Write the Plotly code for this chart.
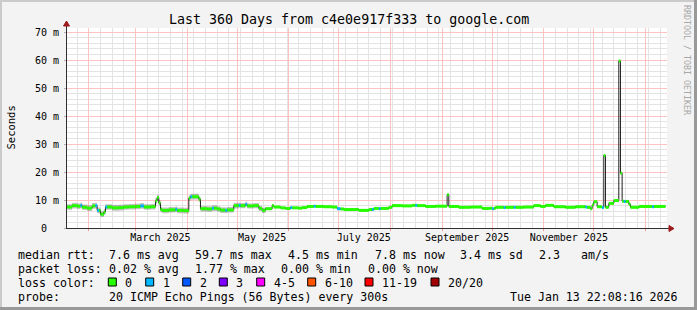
import plotly.graph_objects as go

# ------------------------------------------------------------------ data
dates = [
    # Jan 2025
    "2025-01-19", "2025-01-22", "2025-01-25", "2025-01-27", "2025-01-28", "2025-01-31",
    # Feb
    "2025-02-03", "2025-02-05", "2025-02-06", "2025-02-07", "2025-02-08", "2025-02-10",
    "2025-02-11", "2025-02-12", "2025-02-15", "2025-02-19", "2025-02-22", "2025-02-25",
    # Mar
    "2025-03-01", "2025-03-04", "2025-03-06", "2025-03-10", "2025-03-13", "2025-03-14",
    "2025-03-15", "2025-03-16", "2025-03-17", "2025-03-21", "2025-03-25", "2025-03-26",
    "2025-03-30",
    # Apr
    "2025-04-02", "2025-04-03", "2025-04-04", "2025-04-08", "2025-04-09", "2025-04-13",
    "2025-04-16", "2025-04-17", "2025-04-19", "2025-04-21", "2025-04-24", "2025-04-25",
    "2025-04-29",
    # May
    "2025-05-02", "2025-05-03", "2025-05-06", "2025-05-07", "2025-05-11", "2025-05-14",
    "2025-05-16", "2025-05-18", "2025-05-22", "2025-05-23", "2025-05-27", "2025-05-30",
    # Jun
    "2025-06-02", "2025-06-03", "2025-06-07", "2025-06-09", "2025-06-12", "2025-06-16",
    "2025-06-17", "2025-06-22", "2025-06-27", "2025-06-30",
    # Jul
    "2025-07-02", "2025-07-04", "2025-07-13", "2025-07-19", "2025-07-21", "2025-07-22",
    "2025-07-25", "2025-07-26", "2025-07-31",
    # Aug
    "2025-08-02", "2025-08-08", "2025-08-14", "2025-08-16", "2025-08-17", "2025-08-22",
    "2025-08-28",
    # Sep
    "2025-09-04", "2025-09-05", "2025-09-11", "2025-09-18", "2025-09-25", "2025-09-30",
    # Oct
    "2025-10-01", "2025-10-02", "2025-10-03", "2025-10-08", "2025-10-09", "2025-10-14",
    "2025-10-15", "2025-10-20", "2025-10-26", "2025-10-30",
    # Nov
    "2025-11-02", "2025-11-07", "2025-11-14", "2025-11-20", "2025-11-26", "2025-11-27",
    "2025-11-29", "2025-11-30",
    # Dec
    "2025-12-01", "2025-12-03", "2025-12-06", "2025-12-07", "2025-12-08", "2025-12-10",
    "2025-12-13", "2025-12-16", "2025-12-17", "2025-12-18", "2025-12-19", "2025-12-20",
    "2025-12-22", "2025-12-23", "2025-12-28",
    # Jan 2026
    "2026-01-05", "2026-01-06", "2026-01-13",
]

median_ms = [
    7.5, 8.0, 7.8, 8.1, 7.4, 7.1,
    7.9, 8.0, 6.3, 6.3, 4.9, 5.7, 7.5, 7.5, 7.2, 7.3, 7.5, 7.6,
    7.7, 7.9, 7.5, 7.6, 9.7, 10.9, 9.0, 6.6, 6.3, 6.5, 6.7, 6.3, 6.2,
    10.7, 11.2, 11.2, 10.3, 6.9, 6.8, 7.1, 7.1, 6.8, 6.4, 6.3, 6.5, 8.0,
    8.1, 8.0, 8.5, 7.9, 8.0, 7.0, 6.3, 6.9, 8.0, 7.5, 7.2, 7.0,
    7.3, 7.2, 7.1, 7.3, 7.7, 7.8, 7.7, 7.6, 7.5, 6.9,
    6.8, 6.6, 6.3, 6.6, 6.6, 7.0, 6.9, 7.0, 7.4,
    8.0, 7.9, 8.1, 8.1, 8.0, 7.7, 7.8,
    11.9, 7.7, 7.4, 7.5, 7.0, 7.1,
    6.9, 7.0, 7.4, 7.3, 7.4, 7.4, 7.4, 7.5, 8.0, 7.7,
    8.1, 7.6, 7.4, 7.6, 7.5, 7.4, 6.9, 8.2,
    9.4, 7.6, 7.3, 25.9, 7.4, 8.8, 9.8, 59.7, 19.6, 9.6, 9.5, 9.5, 8.5, 7.4, 7.7,
    7.6, 7.7, 7.7,
]

loss_count = [
    0, 0, 0, 1, 0, 0,
    0, 1, 1, 0, 0, 0, 1, 0, 0, 0, 0, 0,
    0, 1, 0, 0, 0, 0, 0, 0, 0, 0, 1, 0, 0,
    0, 1, 0, 0, 0, 0, 1, 0, 0, 0, 1, 0, 0,
    1, 0, 1, 0, 0, 0, 0, 0, 0, 0, 0, 0,
    1, 0, 0, 0, 0, 1, 0, 0, 0, 1,
    0, 0, 0, 0, 1, 0, 1, 0, 0,
    0, 0, 0, 1, 0, 0, 0,
    0, 0, 0, 0, 0, 0,
    1, 0, 0, 1, 0, 1, 0, 0, 0, 0,
    0, 0, 0, 0, 1, 0, 0, 0,
    0, 0, 1, 0, 0, 0, 0, 0, 0, 0, 1, 0, 0, 0, 0,
    1, 0, 0,
]

smoke_ms = [
    1.0, 1.0, 1.0, 1.0, 1.0, 1.0,
    1.0, 1.0, 1.0, 1.0, 1.0, 1.0, 1.0, 1.0, 1.0, 1.0, 1.0, 1.0,
    1.0, 1.0, 1.0, 1.0, 1.0, 1.0, 1.0, 1.0, 1.0, 1.0, 1.0, 1.0, 1.0,
    1.0, 1.0, 1.0, 1.0, 1.0, 1.0, 1.0, 1.0, 1.0, 1.0, 1.0, 1.0, 1.0,
    0.9, 0.9, 0.9, 0.9, 0.9, 0.9, 0.9, 0.5, 0.4, 0.4, 0.4, 0.4,
    0.4, 0.4, 0.4, 0.4, 0.4, 0.4, 0.4, 0.4, 0.4, 0.4,
    0.4, 0.4, 0.4, 0.4, 0.4, 0.4, 0.4, 0.4, 0.4,
    0.4, 0.4, 0.4, 0.4, 0.4, 0.4, 0.4,
    0.4, 0.4, 0.4, 0.4, 0.4, 0.4,
    0.4, 0.4, 0.4, 0.4, 0.4, 0.4, 0.4, 0.4, 0.4, 0.4,
    0.4, 0.4, 0.4, 0.4, 0.4, 0.4, 0.4, 0.4,
    0.4, 0.4, 0.4, 0.4, 0.4, 0.4, 0.4, 0.4, 0.4, 0.4, 0.4, 0.4, 0.4, 0.4, 0.4,
    0.4, 0.4, 0.4,
]

x_start = "2025-01-18 22:08:16"
x_end = "2026-01-13 22:08:16"

grid_months = ["2025-02-01", "2025-03-01", "2025-04-01", "2025-05-01", "2025-06-01",
               "2025-07-01", "2025-08-01", "2025-09-01", "2025-10-01", "2025-11-01",
               "2025-12-01", "2026-01-01"]
label_dates = ["2025-03-16", "2025-05-16", "2025-07-16", "2025-09-16", "2025-11-16"]
label_text = ["March 2025", "May 2025", "July 2025", "September 2025", "November 2025"]

y_ticks = [0, 10, 20, 30, 40, 50, 60, 70]
y_tick_text = ["0\u00a0\u00a0", "10 m", "20 m", "30 m", "40 m", "50 m", "60 m", "70 m"]

loss_levels = [(0, 0), (1, 1), (2, 2), (3, 3), (4, 5), (6, 10), (11, 19), (20, 20)]
loss_labels = ["0", "1", "2", "3", "4-5", "6-10", "11-19", "20/20"]
loss_colors = ["#26ff00", "#00b8ff", "#0059ff", "#7e00ff", "#ff00ff", "#ff5500",
               "#ff0000", "#a10000"]

title_text = "Last 360 Days from c4e0e917f333 to google.com"
rtt_stats = ["7.6 ms avg", "59.7 ms max", "4.5 ms min", "7.8 ms now", "3.4 ms sd", "2.3", "am/s"]
loss_stats = ["0.02 % avg", "1.77 % max", "0.00 % min", "0.00 % now"]
probe_text = "20 ICMP Echo Pings (56 Bytes) every 300s"
stamp_text = "Tue Jan 13 22:08:16 2026"

# ------------------------------------------------------------------ layout helpers
W, H = 697, 310
L, R, T, B = 67, 30, 28, 82
PW, PH = W - L - R, H - T - B


def px(x):
    return (x - L) / PW


def py(y):
    return (H - B - y) / PH


MONO = "DejaVu Sans Mono"

fig = go.Figure()

# smoke
lo = [m - s for m, s in zip(median_ms, smoke_ms)]
hi = [m + s for m, s in zip(median_ms, smoke_ms)]
fig.add_trace(go.Scatter(x=dates, y=lo, mode="lines", line=dict(width=0, shape="hv"),
                         showlegend=False, hoverinfo="skip"))
fig.add_trace(go.Scatter(x=dates, y=hi, mode="lines", line=dict(width=0, shape="hv"),
                         fill="tonexty", fillcolor="rgba(0,0,0,0.24)",
                         showlegend=False, hoverinfo="skip"))

# median black line
fig.add_trace(go.Scatter(x=dates, y=median_ms, mode="lines",
                         line=dict(color="#202020", width=1, shape="hv"),
                         showlegend=False, hoverinfo="skip"))


# loss-coloured horizontal bands
def level_of(c):
    for k, (a, b) in enumerate(loss_levels):
        if a <= c <= b:
            return k
    return len(loss_levels) - 1


for k, col in enumerate(loss_colors):
    sx, sy = [], []
    for i in range(len(dates) - 1):
        if level_of(loss_count[i]) == k:
            sx += [dates[i], dates[i + 1], None]
            sy += [median_ms[i], median_ms[i], None]
    if sx:
        fig.add_trace(go.Scatter(x=sx, y=sy, mode="lines",
                                 line=dict(color=col, width=3),
                                 showlegend=False, hoverinfo="skip"))

# dummy trace for label axis
fig.add_trace(go.Scatter(x=[x_start, x_end], y=[None, None], xaxis="x2",
                         showlegend=False, hoverinfo="skip"))

MGRID = "#ffc2c2"
GRID = "#e3e3e3"

fig.update_layout(
    width=W, height=H, autosize=False,
    margin=dict(l=L, r=R, t=T, b=B, pad=0),
    paper_bgcolor="#f3f3f3", plot_bgcolor="#ffffff",
    font=dict(family=MONO, size=10, color="#000000"),
    xaxis=dict(
        type="date", range=[x_start, x_end], tickmode="array", tickvals=grid_months,
        showticklabels=False, showgrid=True, gridcolor=MGRID, gridwidth=1,
        ticks="outside", ticklen=2, tickcolor="#ff9090",
        showline=True, linecolor="#303030", linewidth=1, zeroline=False,
        minor=dict(tickmode="linear", tick0="2025-01-04", dtick=7 * 86400000,
                   showgrid=True, gridcolor=GRID, gridwidth=1, ticks=""),
    ),
    xaxis2=dict(
        type="date", range=[x_start, x_end], overlaying="x", anchor="y", side="bottom",
        tickmode="array", tickvals=label_dates, ticktext=label_text, showgrid=False,
        showline=False, ticks="", zeroline=False, ticklabelstandoff=2,
        tickfont=dict(family=MONO, size=10, color="#000000"),
    ),
    yaxis=dict(
        range=[0, 71.5], tickmode="array", tickvals=y_ticks, ticktext=y_tick_text,
        showgrid=True, gridcolor=MGRID, gridwidth=1,
        ticks="outside", ticklen=2, tickcolor="#b0b0b0", ticklabelstandoff=3,
        showline=True, linecolor="#303030", linewidth=1, zeroline=False,
        tickfont=dict(family=MONO, size=10, color="#000000"),
        minor=dict(dtick=2, showgrid=True, gridcolor=GRID, gridwidth=1, ticks=""),
    ),
)

shapes = []
# frame
shapes.append(dict(type="rect", xref="paper", yref="paper", x0=px(0), x1=px(W), y0=py(0), y1=py(2),
                   fillcolor="#cbcbcb", line=dict(width=0)))
shapes.append(dict(type="rect", xref="paper", yref="paper", x0=px(0), x1=px(2), y0=py(0), y1=py(H),
                   fillcolor="#cbcbcb", line=dict(width=0)))
shapes.append(dict(type="rect", xref="paper", yref="paper", x0=px(0), x1=px(W), y0=py(H - 3), y1=py(H),
                   fillcolor="#999999", line=dict(width=0)))
shapes.append(dict(type="rect", xref="paper", yref="paper", x0=px(W - 3), x1=px(W), y0=py(0), y1=py(H),
                   fillcolor="#999999", line=dict(width=0)))
# axis extensions and arrows
ARROW = "#9e1a1a"
shapes.append(dict(type="line", xref="paper", yref="paper", x0=1, x1=px(670), y0=py(228.5), y1=py(228.5),
                   line=dict(color="#303030", width=1)))
shapes.append(dict(type="path", xref="paper", yref="paper",
                   path=f"M {px(669)} {py(225.5)} L {px(674)} {py(228.5)} L {px(669)} {py(231.5)} Z",
                   fillcolor=ARROW, line=dict(color=ARROW, width=1)))
shapes.append(dict(type="line", xref="paper", yref="paper", x0=px(66.5), x1=px(66.5), y0=1, y1=py(25),
                   line=dict(color="#303030", width=1)))
shapes.append(dict(type="path", xref="paper", yref="paper",
                   path=f"M {px(63.5)} {py(26)} L {px(66.5)} {py(21)} L {px(69.5)} {py(26)} Z",
                   fillcolor=ARROW, line=dict(color=ARROW, width=1)))

annotations = []


def text_at(x, y, s, size=11.6, anchor="left", color="#000000", angle=0):
    annotations.append(dict(xref="paper", yref="paper", x=px(x), y=py(y), text=s,
                            showarrow=False, xanchor=anchor, yanchor="middle",
                            textangle=angle,
                            font=dict(family=MONO, size=size, color=color)))


text_at(348.5, 19.3, title_text, size=13.3, anchor="center")
text_at(687, 60, "RRDTOOL / TOBI OETIKER", size=8.3, anchor="center", color="#a8a8a8", angle=90)
text_at(10.5, 128, "Seconds", size=10.5, anchor="center", angle=-90)

# legend rows
row_y = [254.5, 268.5, 282.5, 296.5]
text_at(16, row_y[0], "median rtt:")
for xx, s in zip([107, 193, 286, 372.7, 458, 537, 579], rtt_stats):
    text_at(xx, row_y[0], s)
text_at(16, row_y[1], "packet loss:")
for xx, s in zip([107, 193, 279, 365.7], loss_stats):
    text_at(xx, row_y[1], s)
text_at(16, row_y[2], "loss color:")
box_left = [108.3, 145.7, 182.7, 219.3, 256.7, 307.7, 365, 431]
for bx, lab, col in zip(box_left, loss_labels, loss_colors):
    shapes.append(dict(type="rect", xref="paper", yref="paper", x0=px(bx), x1=px(bx + 8),
                       y0=py(286), y1=py(278), fillcolor=col,
                       line=dict(color="#000000", width=1)))
    text_at(bx + 15, row_y[2], lab)
text_at(16, row_y[3], "probe:")
text_at(107, row_y[3], probe_text)
text_at(680, row_y[3], stamp_text, anchor="right")

fig.update_layout(shapes=shapes, annotations=annotations)

fig.write_html("out.html")
